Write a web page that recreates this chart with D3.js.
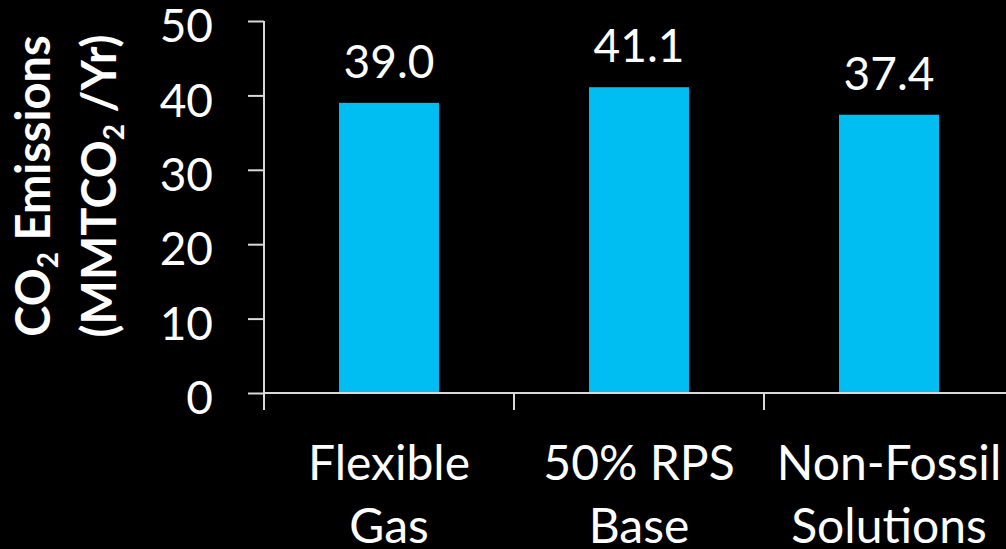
<!DOCTYPE html>
<html>
<head>
<meta charset="utf-8">
<script src="https://cdn.jsdelivr.net/npm/d3@7"></script>
<style>
  html, body { margin: 0; padding: 0; background: #000; }
  svg { display: block; }
  text { font-family: Lato, "Open Sans", sans-serif; fill: #fff; }
</style>
</head>
<body>
<svg id="chart" width="1006" height="549"></svg>
<script>
// Scenario names (each split over two lines) and annual CO2 emissions
const categories = ["Flexible Gas", "50% RPS Base", "Non-Fossil Solutions"];
const categoryLines = [["Flexible", "Gas"], ["50% RPS", "Base"], ["Non-Fossil", "Solutions"]];
const emissions = [39.0, 41.1, 37.4];
const yTicks = [0, 10, 20, 30, 40, 50];

const svg = d3.select("#chart");
const W = 1006, H = 549;
svg.append("rect").attr("width", W).attr("height", H).attr("fill", "#000");

const plot = { left: 264, right: 1014, top: 21, bottom: 393 };

const x = d3.scaleBand()
  .domain(categories)
  .range([plot.left, plot.right])
  .paddingInner(0.6)
  .paddingOuter(0.3);

const y = d3.scaleLinear()
  .domain([0, 50])
  .range([plot.bottom, plot.top]);

const axisColor = "#d9d9d9";

// Bars
svg.append("g").selectAll("rect")
  .data(categories)
  .join("rect")
  .attr("x", d => x(d))
  .attr("y", (d, i) => y(emissions[i]))
  .attr("width", x.bandwidth())
  .attr("height", (d, i) => y(0) - y(emissions[i]))
  .attr("fill", "#00BDF2");

// Value labels above bars
svg.append("g").selectAll("text")
  .data(categories)
  .join("text")
  .attr("x", d => x(d) + x.bandwidth() / 2)
  .attr("y", (d, i) => y(emissions[i]) - 25)
  .attr("text-anchor", "middle")
  .attr("font-size", 46)
  .text((d, i) => emissions[i].toFixed(1));

// Y axis
const yAxis = svg.append("g")
  .attr("transform", `translate(${plot.left},0)`)
  .call(d3.axisLeft(y).tickValues(yTicks).tickSize(16).tickPadding(35).tickFormat(d3.format("d")));
yAxis.select(".domain").attr("stroke", axisColor).attr("stroke-width", 2)
  .attr("d", `M0,${plot.bottom}V${plot.top}`);
yAxis.selectAll(".tick line").attr("stroke", axisColor).attr("stroke-width", 2);
yAxis.selectAll(".tick text")
  .attr("font-family", "Lato, 'Open Sans', sans-serif")
  .attr("font-size", 46)
  .attr("fill", "#fff")
  .attr("dy", "0.45em");

// X axis: baseline with ticks at the band boundaries
const step = x.step();
const boundaries = categories.map(c => x(c) - (step - x.bandwidth()) / 2).concat([plot.right]);
const xAxis = svg.append("g");
xAxis.append("line")
  .attr("x1", plot.left).attr("x2", plot.right)
  .attr("y1", plot.bottom).attr("y2", plot.bottom)
  .attr("stroke", axisColor).attr("stroke-width", 2);
xAxis.selectAll("line.tick")
  .data(boundaries)
  .join("line")
  .attr("class", "tick")
  .attr("x1", d => d).attr("x2", d => d)
  .attr("y1", plot.bottom).attr("y2", plot.bottom + 17)
  .attr("stroke", axisColor).attr("stroke-width", 2);

// Category labels (two lines each)
const catLabels = svg.append("g").selectAll("text")
  .data(categories)
  .join("text")
  .attr("text-anchor", "middle")
  .attr("font-size", 48)
  .attr("x", d => x(d) + x.bandwidth() / 2)
  .attr("y", 480);
catLabels.selectAll("tspan")
  .data((d, i) => categoryLines[i])
  .join("tspan")
  .attr("x", function () { return this.parentNode.getAttribute("x"); })
  .attr("dy", (d, j) => j === 0 ? 0 : 63)
  .text(d => d);

// Y axis title (rotated, two lines, with subscript 2)
const title = svg.append("text")
  .attr("transform", "translate(0,186) rotate(-90)")
  .attr("text-anchor", "middle")
  .attr("font-weight", "bold")
  .attr("font-size", 47);
const l1 = title.append("tspan").attr("x", 0).attr("y", 50);
l1.append("tspan").text("CO");
l1.append("tspan").attr("font-size", 28).attr("dy", 8).text("2");
l1.append("tspan").attr("dy", -8).text(" Emissions");
const l2 = title.append("tspan").attr("x", 0).attr("y", 116);
l2.append("tspan").text("(MMTCO");
l2.append("tspan").attr("font-size", 28).attr("dy", 8).text("2");
l2.append("tspan").attr("dy", -8).text(" /Yr)");
</script>
</body>
</html>
